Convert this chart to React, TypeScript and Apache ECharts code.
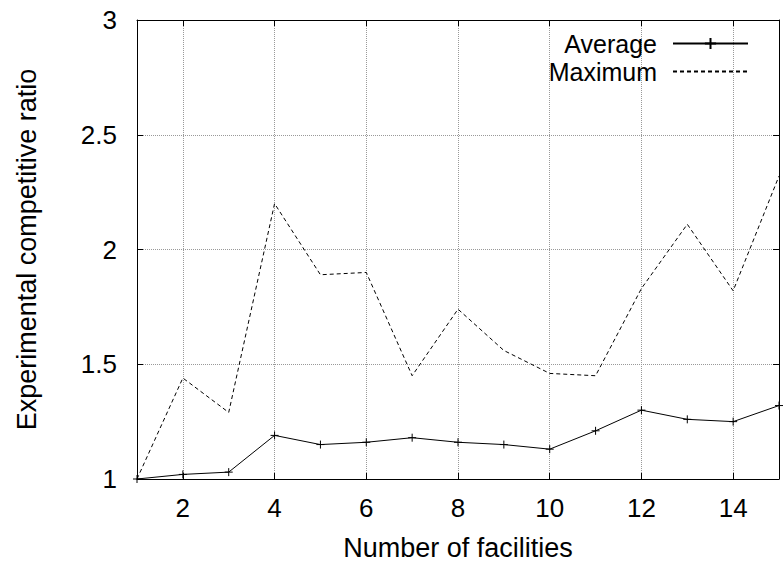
import React, { useEffect, useRef } from "react";
import * as echarts from "echarts";

const facilities = ["1", "2", "3", "4", "5", "6", "7", "8", "9", "10", "11", "12", "13", "14", "15"];
const averageRatio = [1.0, 1.02, 1.03, 1.19, 1.15, 1.16, 1.18, 1.16, 1.15, 1.13, 1.21, 1.3, 1.26, 1.25, 1.32];
const maximumRatio = [1.0, 1.44, 1.29, 2.2, 1.89, 1.9, 1.45, 1.74, 1.56, 1.46, 1.45, 1.83, 2.11, 1.82, 2.32];

const FONT = "Liberation Sans, Arial, Helvetica, sans-serif";
const FS = 26;
const NAME_FS = 27;

export default function App() {
  const ref = useRef<HTMLDivElement>(null);
  useEffect(() => {
    if (!ref.current) return;
    const chart = echarts.init(ref.current, undefined, { renderer: "svg" });
    const evenIdx = (i: number) => i % 2 === 1;
    const tickStyle = { show: true, inside: true, length: 6, interval: evenIdx, lineStyle: { color: "#000", width: 1 } };
    chart.setOption({
      animation: false,
      backgroundColor: "#fff",
      textStyle: { fontFamily: FONT },
      grid: { left: 137, right: 4, top: 20, bottom: 84, containLabel: false, outerBoundsMode: "none" },
      legend: {
        orient: "vertical",
        align: "right",
        right: 29,
        top: 26,
        itemWidth: 75,
        itemHeight: 14,
        itemGap: 3,
        textStyle: { fontFamily: FONT, fontSize: 25, lineHeight: 24, color: "#000", padding: [0, 11, 0, 0] },
        data: [
          { name: "Average" },
          { name: "Maximum", itemStyle: { color: "rgba(0,0,0,0)", borderColor: "rgba(0,0,0,0)", opacity: 0 } },
        ],
      },
      xAxis: [
        {
          type: "category",
          data: facilities,
          boundaryGap: false,
          name: "Number of facilities",
          nameLocation: "middle",
          nameGap: 55,
          nameTextStyle: { fontFamily: FONT, fontSize: NAME_FS, color: "#000" },
          axisLine: { show: true, lineStyle: { color: "#000", width: 1 } },
          axisTick: tickStyle,
          axisLabel: { interval: evenIdx, fontFamily: FONT, fontSize: FS, color: "#000", margin: 16 },
          splitLine: { show: true, interval: evenIdx, lineStyle: { color: "#999", type: "dotted", width: 1 } },
        },
        {
          type: "category",
          data: facilities,
          boundaryGap: false,
          position: "top",
          axisLine: { show: true, lineStyle: { color: "#000", width: 1 } },
          axisTick: tickStyle,
          axisLabel: { show: false },
          splitLine: { show: false },
        },
      ],
      yAxis: [
        {
          type: "value",
          min: 1,
          max: 3,
          interval: 0.5,
          name: "Experimental competitive ratio",
          nameLocation: "middle",
          nameGap: 97,
          nameTextStyle: { fontFamily: FONT, fontSize: NAME_FS, color: "#000" },
          axisLine: { show: true, lineStyle: { color: "#000", width: 1 } },
          axisTick: { show: true, inside: true, length: 6, lineStyle: { color: "#000" } },
          axisLabel: { fontFamily: FONT, fontSize: FS, color: "#000", margin: 20 },
          splitLine: { show: true, lineStyle: { color: "#999", type: "dotted", width: 1 } },
        },
        {
          type: "value",
          min: 1,
          max: 3,
          interval: 0.5,
          position: "right",
          axisLine: { show: true, lineStyle: { color: "#000", width: 1 } },
          axisTick: { show: true, inside: true, length: 6, lineStyle: { color: "#000" } },
          axisLabel: { show: false },
          splitLine: { show: false },
        },
      ],
      series: [
        {
          name: "Average",
          type: "line",
          data: averageRatio,
          xAxisIndex: 0,
          yAxisIndex: 0,
          symbol: "path://M0,5L10,5M5,0L5,10",
          symbolSize: 8,
          showSymbol: true,
          lineStyle: { color: "#000", width: 1 },
          itemStyle: { color: "#000", borderColor: "#000", borderWidth: 1 },
          z: 3,
        },
        {
          name: "Maximum",
          type: "line",
          data: maximumRatio,
          xAxisIndex: 0,
          yAxisIndex: 0,
          symbol: "none",
          lineStyle: { color: "#000", width: 1, type: [4, 3] },
          itemStyle: { color: "#000" },
          z: 3,
        },
      ],
    });
    return () => chart.dispose();
  }, []);
  return <div ref={ref} style={{ position: "absolute", left: 0, top: 0, width: 783, height: 563 }} />;
}
